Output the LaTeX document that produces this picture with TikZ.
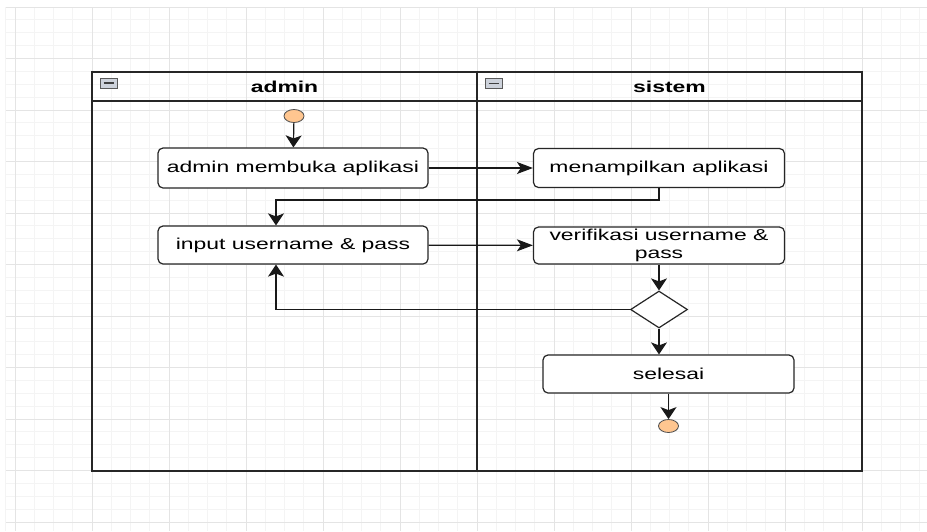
\documentclass[tikz,border=0pt]{standalone}
\usepackage{fontspec}
\setmainfont[FakeStretch=1.45]{Liberation Sans}
\usetikzlibrary{arrows.meta,shapes.geometric}

\definecolor{peach}{HTML}{FFC690}
\definecolor{gridminor}{HTML}{F4F4F4}
\definecolor{gridmajor}{HTML}{E4E4E4}
\definecolor{iconfill}{HTML}{CDD2DB}

\tikzset{
	every node/.style={font=\fontsize{15.8}{18}\selectfont},
	act/.style={draw=black!85, line width=1.2pt, fill=white, rounded corners=5pt, inner sep=0pt, minimum width=251, minimum height=38, align=center},
	keputusan/.style={draw=black!85, line width=1.2pt, fill=white, diamond, inner sep=0pt, minimum width=57, minimum height=37},
	titik/.style={draw=black!70, line width=0.8pt, fill=peach, ellipse, inner sep=0pt, minimum width=20, minimum height=13},
	minbox/.style={draw=black!65, line width=0.8pt, fill=iconfill, inner sep=0pt, minimum width=17, minimum height=10},
	arr/.style={line width=1.2pt, draw=black!90, -{Stealth[length=12pt,width=16pt,inset=3pt]}},
	arrh/.style={line width=1.2pt, draw=black!90, -{Stealth[length=16pt,width=12pt,inset=4pt]}},
}

\begin{document}
\begin{tikzpicture}[x=1pt, y=-1pt]
		\useasboundingbox [fill=white] (0,0) rectangle (927,531);

		% grid
		\foreach \i in {0,...,47}
			\draw [gridminor, line width=0.8pt] (15+19.25*\i,7) -- (15+19.25*\i,531);
		\foreach \j in {0,...,40}
			\draw [gridminor, line width=0.8pt] (5,7+12.875*\j) -- (927,7+12.875*\j);
		\foreach \i in {0,...,11}
			\draw [gridmajor, line width=0.9pt] (15+77*\i,7) -- (15+77*\i,531);
		\foreach \j in {0,...,10}
			\draw [gridmajor, line width=0.9pt] (5,7+51.5*\j) -- (927,7+51.5*\j);
		\draw [gridminor, line width=0.8pt] (5,7) -- (5,531);

		% pool
		\draw [black!85, line width=1.4pt] (92,72) rectangle (862,471);
		\draw [black!85, line width=1.4pt] (92,101) -- (862,101);
		\draw [black!85, line width=1.4pt] (477,72) -- (477,471);

		\node (judul1) at (284.5,86.5) {\bfseries admin};
		\node (judul2) at (669.5,86.5) {\bfseries sistem};
		\node (ikon1)[minbox] at (108.5,83) {\color{black!75}\rule{10pt}{1.3pt}};
		\node (ikon2)[minbox] at (493.5,83.5) {\color{black!75}\rule{10pt}{1.3pt}};

		% admin
		\node (mulai)[titik] at (294,116) {};
		\node (buka)[act, minimum width=270, minimum height=40] at (293,168) {admin membuka aplikasi};
		\node (input)[act, minimum width=270] at (293,245) {input username \& pass};
		\coordinate (belok) at (276,200);

		% sistem
		\node (tampil)[act, minimum height=39] at (659,168) {menampilkan aplikasi};
		\node (verif)[act, minimum height=37] at (659,245.5) {verifikasi username \&\\pass};
		\node (cek)[keputusan] at (659,309.5) {};
		\node (selesai)[act] at (668.5,374) {selesai};
		\node (akhir)[titik] at (668.5,426) {};

		\draw [arr](mulai) -- (buka);
		\draw [arrh](buka) -- (tampil);
		\draw [arr](tampil.south) |- (belok) -- (belok |- input.north);
		\draw [arrh](input) -- (verif);
		\draw [arr](verif) -- (cek);
		\draw [arr](cek.west) -| (belok |- input.south);
		\draw [arr](cek.south) -- (cek.south |- selesai.north);
		\draw [arr](selesai) -- (akhir);
	\end{tikzpicture}
\end{document}
